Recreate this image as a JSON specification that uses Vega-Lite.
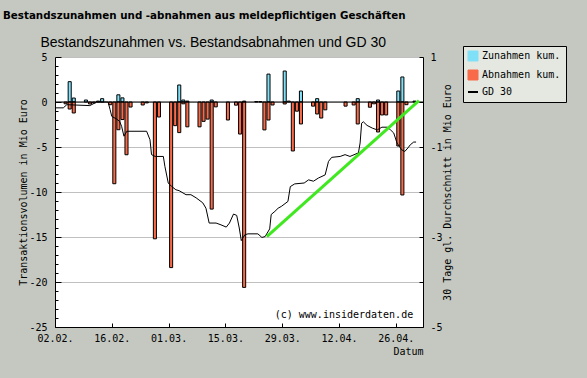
{
  "$schema": "https://vega.github.io/schema/vega-lite/v6.json",
  "width": 368,
  "height": 270,
  "autosize": {"type": "none"},
  "padding": {"left": 55, "top": 57, "right": 164, "bottom": 51},
  "background": "#c4c8c0",
  "title": {
    "text": "Bestandszunahmen und -abnahmen aus meldepflichtigen Geschäften",
    "anchor": "start", "frame": "group", "dx": -52, "offset": 14,
    "font": "DejaVu Sans", "fontSize": 10.3, "fontWeight": "bold", "color": "black"
  },
  "config": {
    "view": {"fill": "white", "stroke": null},
    "axis": {
      "domainColor": "black", "tickColor": "black", "labelColor": "black", "titleColor": "black",
      "labelFont": "DejaVu Sans Mono", "labelFontSize": 10,
      "titleFont": "DejaVu Sans Mono", "titleFontSize": 10, "titleFontWeight": "normal",
      "gridColor": "#c0c0c0"
    }
  },
  "datasets": {
    "bars": [
      {"d": "2012-02-05T00:00", "s": "Zunahmen kum.", "v": 2.26},
      {"d": "2012-02-06T00:00", "s": "Zunahmen kum.", "v": 0.44},
      {"d": "2012-02-09T00:00", "s": "Zunahmen kum.", "v": 0.22},
      {"d": "2012-02-12T00:00", "s": "Zunahmen kum.", "v": 0.1},
      {"d": "2012-02-13T00:00", "s": "Zunahmen kum.", "v": 0.37},
      {"d": "2012-02-17T00:00", "s": "Zunahmen kum.", "v": 0.8},
      {"d": "2012-02-18T00:00", "s": "Zunahmen kum.", "v": 0.46},
      {"d": "2012-03-03T00:00", "s": "Zunahmen kum.", "v": 1.89},
      {"d": "2012-03-04T00:00", "s": "Zunahmen kum.", "v": 0.22},
      {"d": "2012-03-05T00:00", "s": "Zunahmen kum.", "v": 0.1},
      {"d": "2012-03-11T00:00", "s": "Zunahmen kum.", "v": 0.22},
      {"d": "2012-03-19T00:00", "s": "Zunahmen kum.", "v": 0.1},
      {"d": "2012-03-22T00:00", "s": "Zunahmen kum.", "v": 0.05},
      {"d": "2012-03-23T00:00", "s": "Zunahmen kum.", "v": 0.05},
      {"d": "2012-03-25T00:00", "s": "Zunahmen kum.", "v": 3.1},
      {"d": "2012-03-29T00:00", "s": "Zunahmen kum.", "v": 3.44},
      {"d": "2012-03-30T00:00", "s": "Zunahmen kum.", "v": 0.1},
      {"d": "2012-04-02T00:00", "s": "Zunahmen kum.", "v": 1.22},
      {"d": "2012-04-06T00:00", "s": "Zunahmen kum.", "v": 0.37},
      {"d": "2012-04-16T00:00", "s": "Zunahmen kum.", "v": 0.37},
      {"d": "2012-04-21T00:00", "s": "Zunahmen kum.", "v": 0.22},
      {"d": "2012-04-26T00:00", "s": "Zunahmen kum.", "v": 1.22},
      {"d": "2012-04-27T00:00", "s": "Zunahmen kum.", "v": 2.78},
      {"d": "2012-04-30T00:00", "s": "Zunahmen kum.", "v": 0.1},
      {"d": "2012-02-04T00:00", "s": "Abnahmen kum.", "v": -0.2},
      {"d": "2012-02-05T00:00", "s": "Abnahmen kum.", "v": -0.78},
      {"d": "2012-02-06T00:00", "s": "Abnahmen kum.", "v": -1.22},
      {"d": "2012-02-10T00:00", "s": "Abnahmen kum.", "v": -0.22},
      {"d": "2012-02-11T00:00", "s": "Abnahmen kum.", "v": -0.1},
      {"d": "2012-02-15T00:00", "s": "Abnahmen kum.", "v": -0.3},
      {"d": "2012-02-16T00:00", "s": "Abnahmen kum.", "v": -9.08},
      {"d": "2012-02-17T00:00", "s": "Abnahmen kum.", "v": -3.08},
      {"d": "2012-02-18T00:00", "s": "Abnahmen kum.", "v": -1.95},
      {"d": "2012-02-19T00:00", "s": "Abnahmen kum.", "v": -5.86},
      {"d": "2012-02-20T00:00", "s": "Abnahmen kum.", "v": -0.56},
      {"d": "2012-02-23T00:00", "s": "Abnahmen kum.", "v": -0.33},
      {"d": "2012-02-24T00:00", "s": "Abnahmen kum.", "v": -0.1},
      {"d": "2012-02-26T00:00", "s": "Abnahmen kum.", "v": -15.2},
      {"d": "2012-02-27T00:00", "s": "Abnahmen kum.", "v": -1.67},
      {"d": "2012-03-01T00:00", "s": "Abnahmen kum.", "v": -18.4},
      {"d": "2012-03-02T00:00", "s": "Abnahmen kum.", "v": -2.63},
      {"d": "2012-03-03T00:00", "s": "Abnahmen kum.", "v": -3.4},
      {"d": "2012-03-04T00:00", "s": "Abnahmen kum.", "v": -0.2},
      {"d": "2012-03-05T00:00", "s": "Abnahmen kum.", "v": -2.76},
      {"d": "2012-03-08T00:00", "s": "Abnahmen kum.", "v": -2.76},
      {"d": "2012-03-09T00:00", "s": "Abnahmen kum.", "v": -2.15},
      {"d": "2012-03-10T00:00", "s": "Abnahmen kum.", "v": -1.9},
      {"d": "2012-03-11T00:00", "s": "Abnahmen kum.", "v": -11.9},
      {"d": "2012-03-12T00:00", "s": "Abnahmen kum.", "v": -0.54},
      {"d": "2012-03-15T00:00", "s": "Abnahmen kum.", "v": -2.0},
      {"d": "2012-03-17T00:00", "s": "Abnahmen kum.", "v": -0.35},
      {"d": "2012-03-18T00:00", "s": "Abnahmen kum.", "v": -3.56},
      {"d": "2012-03-19T00:00", "s": "Abnahmen kum.", "v": -20.6},
      {"d": "2012-03-24T00:00", "s": "Abnahmen kum.", "v": -3.1},
      {"d": "2012-03-25T00:00", "s": "Abnahmen kum.", "v": -2.0},
      {"d": "2012-03-26T00:00", "s": "Abnahmen kum.", "v": -0.33},
      {"d": "2012-03-29T00:00", "s": "Abnahmen kum.", "v": -0.22},
      {"d": "2012-03-31T00:00", "s": "Abnahmen kum.", "v": -5.44},
      {"d": "2012-04-01T00:00", "s": "Abnahmen kum.", "v": -1.02},
      {"d": "2012-04-02T00:00", "s": "Abnahmen kum.", "v": -2.44},
      {"d": "2012-04-05T00:00", "s": "Abnahmen kum.", "v": -0.46},
      {"d": "2012-04-06T00:00", "s": "Abnahmen kum.", "v": -1.33},
      {"d": "2012-04-07T00:00", "s": "Abnahmen kum.", "v": -1.78},
      {"d": "2012-04-08T00:00", "s": "Abnahmen kum.", "v": -0.87},
      {"d": "2012-04-13T00:00", "s": "Abnahmen kum.", "v": -0.46},
      {"d": "2012-04-15T00:00", "s": "Abnahmen kum.", "v": -0.33},
      {"d": "2012-04-16T00:00", "s": "Abnahmen kum.", "v": -2.44},
      {"d": "2012-04-19T00:00", "s": "Abnahmen kum.", "v": -0.58},
      {"d": "2012-04-20T00:00", "s": "Abnahmen kum.", "v": -0.2},
      {"d": "2012-04-21T00:00", "s": "Abnahmen kum.", "v": -3.33},
      {"d": "2012-04-22T00:00", "s": "Abnahmen kum.", "v": -1.44},
      {"d": "2012-04-23T00:00", "s": "Abnahmen kum.", "v": -1.44},
      {"d": "2012-04-26T00:00", "s": "Abnahmen kum.", "v": -4.89},
      {"d": "2012-04-27T00:00", "s": "Abnahmen kum.", "v": -10.33},
      {"d": "2012-04-28T00:00", "s": "Abnahmen kum.", "v": -0.3}
    ],
    "gd": [
      {"d": "2012-02-02T02:00", "g": -0.13},
      {"d": "2012-02-04T01:00", "g": -0.13},
      {"d": "2012-02-04T22:00", "g": -0.06},
      {"d": "2012-02-10T14:00", "g": -0.08},
      {"d": "2012-02-12T07:00", "g": 0},
      {"d": "2012-02-15T02:00", "g": 0},
      {"d": "2012-02-15T14:00", "g": -0.17},
      {"d": "2012-02-16T00:00", "g": -0.32},
      {"d": "2012-02-17T05:00", "g": -0.38},
      {"d": "2012-02-17T22:00", "g": -0.43},
      {"d": "2012-02-18T10:00", "g": -0.54},
      {"d": "2012-02-19T00:00", "g": -0.76},
      {"d": "2012-02-19T17:00", "g": -0.65},
      {"d": "2012-02-24T14:00", "g": -0.65},
      {"d": "2012-02-25T10:00", "g": -0.84},
      {"d": "2012-02-25T19:00", "g": -1.17},
      {"d": "2012-02-26T17:00", "g": -1.21},
      {"d": "2012-02-28T17:00", "g": -1.21},
      {"d": "2012-02-29T02:00", "g": -1.43},
      {"d": "2012-02-29T22:00", "g": -1.8},
      {"d": "2012-03-01T19:00", "g": -1.88},
      {"d": "2012-03-02T19:00", "g": -1.95},
      {"d": "2012-03-03T14:00", "g": -1.97},
      {"d": "2012-03-05T07:00", "g": -2.06},
      {"d": "2012-03-06T12:00", "g": -2.06},
      {"d": "2012-03-07T19:00", "g": -2.13},
      {"d": "2012-03-09T10:00", "g": -2.24},
      {"d": "2012-03-10T05:00", "g": -2.36},
      {"d": "2012-03-11T00:00", "g": -2.69},
      {"d": "2012-03-12T17:00", "g": -2.69},
      {"d": "2012-03-13T22:00", "g": -2.73},
      {"d": "2012-03-15T05:00", "g": -2.78},
      {"d": "2012-03-16T00:00", "g": -2.69},
      {"d": "2012-03-17T00:00", "g": -2.49},
      {"d": "2012-03-17T19:00", "g": -2.52},
      {"d": "2012-03-18T10:00", "g": -2.8},
      {"d": "2012-03-18T22:00", "g": -3.08},
      {"d": "2012-03-19T19:00", "g": -2.95},
      {"d": "2012-03-20T14:00", "g": -2.93},
      {"d": "2012-03-23T00:00", "g": -2.93},
      {"d": "2012-03-24T00:00", "g": -3.01},
      {"d": "2012-03-24T19:00", "g": -2.99},
      {"d": "2012-03-25T22:00", "g": -2.82},
      {"d": "2012-03-26T07:00", "g": -2.5},
      {"d": "2012-03-27T05:00", "g": -2.43},
      {"d": "2012-03-28T00:00", "g": -2.36},
      {"d": "2012-03-28T19:00", "g": -2.32},
      {"d": "2012-03-30T10:00", "g": -2.21},
      {"d": "2012-03-31T00:00", "g": -1.88},
      {"d": "2012-04-01T02:00", "g": -1.82},
      {"d": "2012-04-03T10:00", "g": -1.8},
      {"d": "2012-04-04T12:00", "g": -1.73},
      {"d": "2012-04-05T17:00", "g": -1.76},
      {"d": "2012-04-06T22:00", "g": -1.69},
      {"d": "2012-04-08T14:00", "g": -1.62},
      {"d": "2012-04-09T10:00", "g": -1.32},
      {"d": "2012-04-10T05:00", "g": -1.23},
      {"d": "2012-04-12T07:00", "g": -1.21},
      {"d": "2012-04-13T12:00", "g": -1.17},
      {"d": "2012-04-14T17:00", "g": -1.21},
      {"d": "2012-04-16T19:00", "g": -1.13},
      {"d": "2012-04-17T05:00", "g": -0.91},
      {"d": "2012-04-17T14:00", "g": -0.47},
      {"d": "2012-04-18T00:00", "g": -0.44},
      {"d": "2012-04-18T22:00", "g": -0.52},
      {"d": "2012-04-20T05:00", "g": -0.58},
      {"d": "2012-04-21T10:00", "g": -0.62},
      {"d": "2012-04-22T14:00", "g": -0.56},
      {"d": "2012-04-23T22:00", "g": -0.56},
      {"d": "2012-04-24T17:00", "g": -0.62},
      {"d": "2012-04-25T12:00", "g": -0.69},
      {"d": "2012-04-26T07:00", "g": -0.91},
      {"d": "2012-04-27T10:00", "g": -1.06},
      {"d": "2012-04-28T05:00", "g": -1.1},
      {"d": "2012-04-29T00:00", "g": -1.02},
      {"d": "2012-04-29T14:00", "g": -0.95},
      {"d": "2012-04-30T10:00", "g": -0.89},
      {"d": "2012-05-01T00:00", "g": -0.89}
    ],
    "trend": [
      {"d": "2012-03-25T05:00", "g": -2.99},
      {"d": "2012-05-01T17:00", "g": 0.03}
    ]
  },
  "layer": [
    {
      "layer": [
        {
          "data": {"name": "bars"},
          "mark": {"type": "bar", "stroke": "black", "strokeWidth": 1},
          "encoding": {
            "x": {
              "field": "d", "timeUnit": "yearmonthdate", "type": "temporal",
              "scale": {"domain": [{"year": 2012, "month": 2, "date": 2}, {"year": 2012, "month": 5, "date": 2, "hours": 17}], "nice": false},
              "axis": {
                "orient": "bottom",
                "values": [
                  {"year": 2012, "month": 2, "date": 2}, {"year": 2012, "month": 2, "date": 16},
                  {"year": 2012, "month": 3, "date": 1}, {"year": 2012, "month": 3, "date": 15},
                  {"year": 2012, "month": 3, "date": 29}, {"year": 2012, "month": 4, "date": 12},
                  {"year": 2012, "month": 4, "date": 26}
                ],
                "format": "%d.%m.", "labelAlign": "center", "labelFlush": false, "labelOverlap": false,
                "tickSize": -4, "labelPadding": 10, "grid": false,
                "title": "Datum", "titleAnchor": "end", "titleAlign": "right", "titlePadding": 3
              }
            },
            "y": {
              "field": "v", "type": "quantitative", "stack": null,
              "scale": {"domain": [-25, 5], "nice": false, "zero": false},
              "axis": {
                "orient": "left",
                "values": [-25, -20, -15, -10, -5, 0, 5],
                "labelExpr": "'' + datum.value",
                "labelOverlap": false,
                "tickSize": -6,
                "labelPadding": 14,
                "grid": true,
                "title": "Transaktionsvolumen in Mio Euro", "titlePadding": 0
              }
            },
            "color": {
              "field": "s", "type": "nominal",
              "scale": {"domain": ["Zunahmen kum.", "Abnahmen kum.", "GD 30"], "range": ["#80e0f8", "#f86a48", "black"]},
              "legend": {
                "orient": "none", "legendX": 408, "legendY": -11, "title": null,
                "fillColor": "#e4e8e0", "strokeColor": "black", "padding": 5, "rowPadding": 5,
                "symbolSize": 100, "symbolType": "square", "symbolStrokeColor": "black", "symbolStrokeWidth": 1,
                "labelFont": "DejaVu Sans Mono", "labelFontSize": 10, "labelColor": "black", "labelOffset": 4,
                "encode": {
                  "symbols": {
                    "update": {
                      "shape": {"signal": "datum.value === 'GD 30' ? 'stroke' : 'square'"},
                      "strokeWidth": {"signal": "datum.value === 'GD 30' ? 2 : 1"},
                      "stroke": {"value": "black"}
                    }
                  }
                }
              }
            }
          }
        },
        {
          "data": {"values": [{"z": 0}]},
          "mark": {"type": "rule", "color": "black", "strokeWidth": 1},
          "encoding": {
            "y": {
              "field": "z", "type": "quantitative",
              "axis": {
                "orient": "left",
                "values": [-24, -23, -22, -21, -19, -18, -17, -16, -14, -13, -12, -11, -9, -8, -7, -6, -4, -3, -2, -1, 1, 2, 3, 4],
                "labels": false, "domain": false, "grid": false, "tickSize": -3, "title": null
              }
            }
          }
        },
        {
          "data": {"values": [{"t": "(c) www.insiderdaten.de"}]},
          "mark": {"type": "text", "align": "right", "baseline": "alphabetic", "font": "DejaVu Sans Mono", "fontSize": 10, "color": "black"},
          "encoding": {
            "x": {"datum": {"year": 2012, "month": 4, "date": 30, "hours": 7}, "type": "temporal"},
            "y": {"datum": -24, "type": "quantitative", "axis": null},
            "text": {"field": "t", "type": "nominal"}
          }
        }
      ],
      "resolve": {"axis": {"y": "independent"}}
    },
    {
      "layer": [
        {
          "data": {"name": "gd"},
          "mark": {"type": "line", "strokeWidth": 1, "interpolate": "linear"},
          "encoding": {
            "x": {
              "field": "d", "type": "temporal",
              "scale": {"domain": [{"year": 2012, "month": 2, "date": 2}, {"year": 2012, "month": 5, "date": 2, "hours": 17}], "nice": false},
              "axis": {
                "orient": "top", "domain": false, "ticks": false, "labels": false, "grid": false,
                "title": "Bestandszunahmen vs. Bestandsabnahmen und GD 30",
                "titleFont": "Liberation Sans", "titleFontSize": 14, "titleFontWeight": "normal",
                "titleAnchor": "start", "titleAlign": "left", "titleBaseline": "alphabetic",
                "titleX": -15, "titleY": -11
              }
            },
            "y": {
              "field": "g", "type": "quantitative",
              "scale": {"domain": [-5, 1], "nice": false, "zero": false},
              "axis": {
                "orient": "right",
                "values": [-5, -4, -3, -2, -1, 0, 1],
                "labelExpr": "datum.value % 2 === 0 ? '' : '' + datum.value",
                "labelOverlap": false,
                "tickSize": -4, "labelPadding": 11, "grid": false,
                "title": "30 Tage gl. Durchschnitt in Mio Euro", "titleAngle": 270, "titlePadding": 10
              }
            },
            "color": {"datum": "GD 30"}
          }
        },
        {
          "data": {"name": "trend"},
          "mark": {"type": "line", "color": "#40e820", "strokeWidth": 3},
          "encoding": {
            "x": {"field": "d", "type": "temporal"},
            "y": {"field": "g", "type": "quantitative"}
          }
        }
      ]
    }
  ],
  "resolve": {"scale": {"y": "independent"}, "axis": {"x": "independent"}}
}
